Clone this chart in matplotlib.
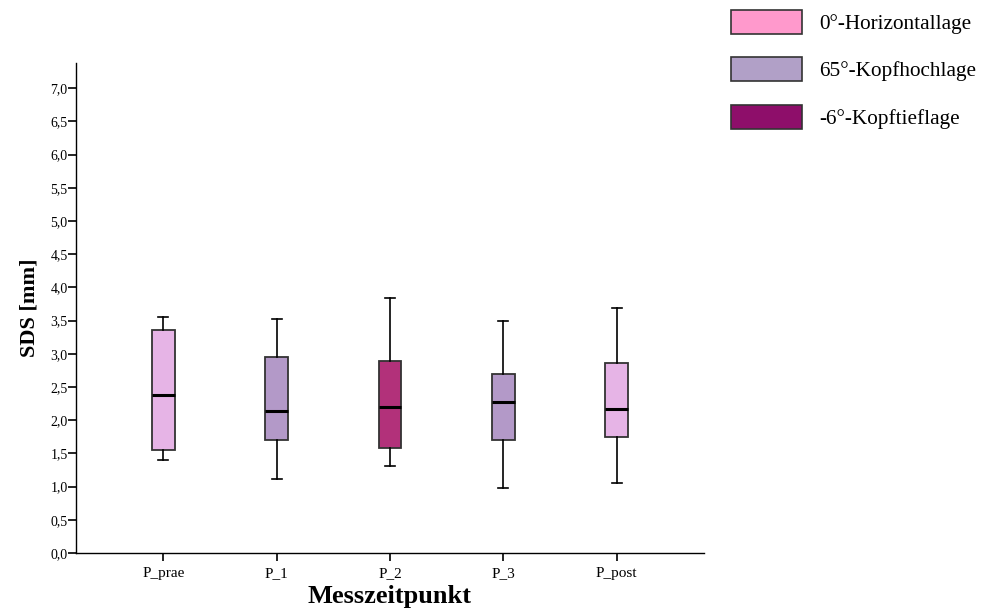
import numpy as np
import matplotlib
matplotlib.use('Agg')
import matplotlib.pyplot as plt
from matplotlib.patches import Patch
from matplotlib.ticker import FuncFormatter, MultipleLocator

# Box plot summary values (SDS in mm)
zeitpunkte = ['P_prae', 'P_1', 'P_2', 'P_3', 'P_post']
whisker_lo = [1.40, 1.11, 1.31, 0.98, 1.05]
q1 = [1.55, 1.70, 1.58, 1.70, 1.75]
median = [2.38, 2.14, 2.20, 2.27, 2.17]
q3 = [3.36, 2.95, 2.89, 2.70, 2.86]
whisker_hi = [3.55, 3.52, 3.84, 3.49, 3.69]

box_colors = ['#E6B4E6', '#B399C8', '#B2317A', '#B399C8', '#E6B4E6']

legend_labels = ['0°-Horizontallage', '65°-Kopfhochlage', '-6°-Kopftieflage']
legend_colors = ['#FF99CC', '#B1A0C7', '#8E0E6A']

plt.rcParams['font.family'] = ['Liberation Serif', 'DejaVu Serif']

fig = plt.figure(figsize=(9.95, 6.15), dpi=100)
ax = fig.add_axes([0.0764, 0.1008, 0.6311, 0.7968])

stats = []
for i, name in enumerate(zeitpunkte):
    stats.append({'label': name, 'whislo': whisker_lo[i], 'q1': q1[i], 'med': median[i],
                  'q3': q3[i], 'whishi': whisker_hi[i], 'fliers': []})

pos = np.arange(len(zeitpunkte))
bp = ax.bxp(stats, positions=pos, widths=0.2, patch_artist=True, showfliers=False,
            boxprops=dict(edgecolor='#333333', linewidth=1.3),
            medianprops=dict(color='black', linewidth=2.2),
            whiskerprops=dict(color='black', linewidth=1.2),
            capprops=dict(color='black', linewidth=1.2),
            capwidths=0.09)
for patch, c in zip(bp['boxes'], box_colors):
    patch.set_facecolor(c)

ax.set_xlim(-0.77, 4.77)
ax.set_ylim(0, 7.38)
ax.yaxis.set_major_locator(MultipleLocator(0.5))
ax.yaxis.set_major_formatter(FuncFormatter(lambda v, p: f'{v:.1f}'.replace('.', ',')))
ax.set_xticks(pos)
ax.set_xticklabels(zeitpunkte)

for s in ['top', 'right']:
    ax.spines[s].set_visible(False)
ax.spines['left'].set_linewidth(1.0)
ax.spines['bottom'].set_linewidth(1.0)
ax.tick_params(axis='y', direction='out', length=6, width=1.2, pad=0, labelsize=10)
ax.tick_params(axis='x', direction='out', length=6, width=1.2, pad=4, labelsize=11)

ax.set_ylabel('SDS [mm]', fontsize=16, fontweight='bold', labelpad=8)
ax.set_xlabel('Messzeitpunkt', fontsize=19, fontweight='bold', labelpad=4)

handles = [Patch(facecolor=c, edgecolor='#333333', linewidth=1.2) for c in legend_colors]
fig.legend(handles, legend_labels, loc='upper left', bbox_to_anchor=(0.72, 1.008),
           frameon=False, fontsize=15.3, handlelength=3.35, handleheight=1.35,
           labelspacing=1.1, handletextpad=0.8, borderaxespad=0.3)

fig.savefig('out.png', dpi=100)
